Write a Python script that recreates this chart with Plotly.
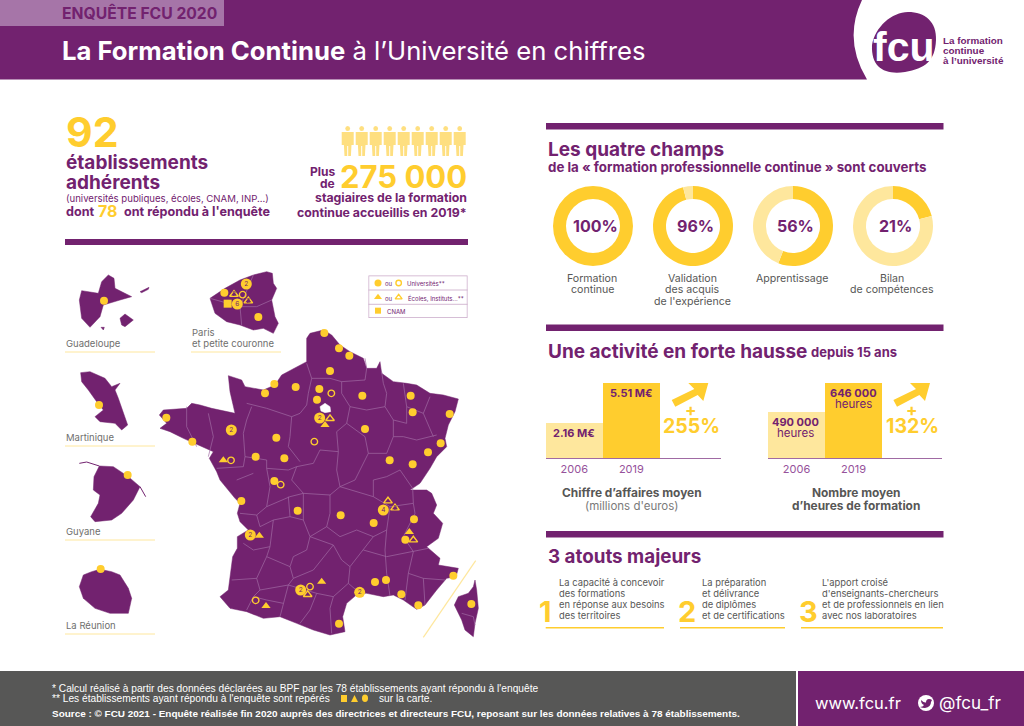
import plotly.graph_objects as go

PURPLE = "#72226f"
GOLD = "#ffcd2e"
PALE = "#fee79d"
GREY = "#575756"
FONT = "Inter"

# ---- donuts
field_names = [["Formation", "continue"], ["Validation", "des acquis", "de l'expérience"],
               ["Apprentissage"], ["Bilan", "de compétences"]]
field_pct = [100, 96, 56, 21]

# ---- bars
years = ["2006", "2019"]
revenue_values = [2.16, 5.51]
revenue_labels = ["2.16 M€", "5.51 M€"]
revenue_growth = "255%"
hours_values = [490000, 646000]
hours_labels = [["490 000", "heures"], ["646 000", "heures"]]
hours_growth = "132%"
# the original bars are on truncated scales, these are the values at the baseline
revenue_floor = -0.77
hours_floor = 243000

# ---- map outlines, units are the map axes
france_x = [850, 875, 900, 930, 970, 980, 1010, 1020, 1025, 1060, 1100, 1130, 1170, 1210, 1255, 1245, 1225, 1215, 1220, 1190,
            1170, 1140, 1110, 1160, 1175, 1190, 1180, 1208, 1195, 1160, 1200, 1195, 1255, 1248, 1220, 1190, 1155, 1130, 1090,
            1060, 1030, 980, 955, 920, 908, 915, 870, 820, 770, 720, 670, 620, 570, 540, 565, 578, 592, 592, 625, 600, 592, 600,
            585, 540, 530, 508, 520, 485, 430, 390, 360, 380, 358, 370, 440, 455, 480, 515, 585, 570, 565, 605, 615, 670, 705,
            725, 800, 800, 810, 850]
france_y = [240, 255, 285, 305, 325, 355, 355, 335, 370, 395, 400, 405, 430, 435, 447, 485, 525, 565, 590, 620,
            655, 700, 720, 720, 730, 765, 790, 820, 865, 890, 925, 945, 955, 980, 985, 1020, 1065, 1078, 1050,
            1035, 1040, 1030, 1030, 1060, 1100, 1145, 1155, 1140, 1120, 1100, 1105, 1085, 1075, 1040, 1020, 920, 895, 860, 840, 815, 790, 760,
            745, 690, 665, 625, 605, 590, 565, 545, 535, 520, 495, 480, 475, 460, 465, 475, 490, 425, 377, 390, 410, 420, 405,
            375, 335, 265, 250, 240]
paris_hole_x = [840, 855, 870, 872, 855, 843, 840]
paris_hole_y = [470, 460, 470, 485, 488, 483, 470]
corsica_x = [1305, 1310, 1315, 1305, 1300, 1275, 1265, 1243, 1255, 1285, 1300, 1305]
corsica_y = [990, 1020, 1075, 1120, 1160, 1140, 1110, 1065, 1040, 1030, 1010, 990]
guadeloupe_x = [205, 222, 225, 275, 240, 190, 180, 150, 125, 118, 125, 175, 185, 205, None, 240, 255, 280, 255, 245, 240, None,
                300, 327, 325, 305, 300, None, 183, 193, 190, 183]
guadeloupe_y = [75, 85, 115, 140, 150, 165, 200, 232, 205, 150, 122, 130, 95, 75, None, 205, 192, 210, 230, 225, 205, None,
                125, 112, 118, 128, 125, None, 232, 232, 240, 232]
martinique_x = [122, 150, 195, 215, 240, 225, 235, 250, 263, 245, 225, 180, 165, 190, 170, 145, 125, 122]
martinique_y = [368, 365, 385, 410, 400, 420, 445, 490, 525, 540, 520, 515, 500, 480, 455, 420, 395, 368]
guyane_x = [178, 220, 265, 300, 280, 245, 215, 165, 152, 175, 180, 160, 162, 178]
guyane_y = [648, 650, 680, 710, 750, 790, 810, 815, 800, 760, 735, 720, 680, 648]
reunion_x = [180, 215, 240, 265, 275, 265, 210, 165, 130, 118, 130, 155, 180]
reunion_y = [958, 965, 975, 1015, 1045, 1090, 1090, 1075, 1045, 1010, 975, 965, 958]
idf_x = [680, 697, 700, 710, 695, 705, 715, 700, 670, 640, 600, 560, 525, 510, 555, 600, 640, 680]
idf_y = [65, 70, 100, 115, 150, 200, 220, 250, 235, 240, 225, 215, 190, 145, 115, 90, 75, 65]
borders = [
    [(800, 340), (815, 385), (805, 430), (800, 465), (780, 490), (755, 500)],
    [(815, 385), (870, 385), (905, 395), (905, 430), (930, 470), (920, 520), (890, 545), (895, 605)],
    [(975, 325), (980, 355), (975, 390), (905, 395)],
    [(1025, 365), (1030, 400), (1040, 430), (1035, 470), (1060, 510)],
    [(1090, 400), (1100, 470), (1150, 490), (1170, 440)],
    [(1060, 510), (1100, 520), (1100, 470)],
    [(1060, 510), (1060, 560), (1090, 560), (1130, 570), (1190, 555)],
    [(1150, 490), (1180, 560)],
    [(930, 470), (980, 480), (1035, 470)],
    [(920, 520), (975, 560), (985, 610), (1040, 610), (1060, 560)],
    [(895, 605), (890, 660), (900, 710), (945, 690), (985, 610)],
    [(895, 605), (840, 600), (820, 640), (770, 650), (755, 690), (790, 730)],
    [(755, 500), (750, 560), (745, 590), (780, 635)],
    [(620, 460), (680, 475), (755, 500)],
    [(635, 470), (620, 510), (610, 550), (615, 620), (610, 650)],
    [(440, 470), (440, 530), (470, 590)],
    [(505, 490), (520, 560), (505, 620)],
    [(615, 620), (680, 630), (680, 655), (745, 660), (770, 650)],
    [(530, 655), (610, 650)],
    [(680, 655), (690, 710), (680, 770)],
    [(590, 690), (640, 670)],
    [(600, 790), (650, 795), (680, 770), (750, 740), (790, 730), (870, 735), (900, 710)],
    [(650, 795), (660, 830), (700, 810), (750, 800), (745, 740)],
    [(750, 800), (790, 810), (790, 730)],
    [(870, 735), (870, 790), (860, 830), (810, 860), (790, 810)],
    [(700, 810), (690, 890), (640, 900), (610, 880)],
    [(690, 890), (680, 920), (650, 985), (575, 990)],
    [(650, 985), (660, 1020), (640, 1040), (620, 1080)],
    [(680, 920), (750, 950), (760, 985), (745, 1005), (660, 1020)],
    [(810, 860), (800, 900), (760, 920), (750, 950)],
    [(760, 985), (820, 960), (880, 885), (905, 930), (930, 950), (925, 1000), (880, 1040), (830, 1030), (745, 1005)],
    [(810, 860), (880, 885)],
    [(860, 830), (900, 860), (950, 840), (1000, 860), (1040, 840), (1050, 770)],
    [(900, 710), (1000, 740), (1050, 770)],
    [(1000, 740), (1000, 690), (1040, 680), (1080, 660), (1118, 715)],
    [(1050, 770), (1120, 760), (1118, 715)],
    [(1120, 760), (1125, 790), (1090, 860), (1120, 905)],
    [(1040, 840), (1035, 900), (1040, 970), (1050, 1038)],
    [(1000, 860), (970, 900), (930, 950)],
    [(970, 900), (1040, 920)],
    [(1040, 920), (1120, 905), (1165, 895)],
    [(1120, 905), (1105, 970), (1095, 1050)],
    [(1105, 970), (1150, 985), (1215, 990)],
    [(1150, 985), (1155, 1065)],
    [(925, 1000), (960, 1030)],
    [(880, 1040), (870, 1075), (875, 1150)],
    [(830, 1030), (810, 1080), (780, 1120)],
    [(745, 1005), (730, 1060), (720, 1100)],
    [(640, 1040), (680, 1050), (730, 1060)],
    [(1265, 1090), (1300, 1100), (1305, 1125)],
    [(640, 75), (620, 120), (600, 170), (605, 225)],
    [(600, 170), (650, 170), (695, 150)],
    [(510, 145), (600, 170)],
]

# ---- establishments on the map
univ_x = [853, 897, 928, 870, 703, 767, 675, 838, 831, 967, 1112, 1118, 1229, 379, 975, 457, 709, 1202, 1164, 647, 733, 1049,
          1118, 703, 604, 773, 902, 1122, 1001, 1096, 1240, 1005, 1038, 1084, 1135, 897, 1294, 553, 655, 192, 177, 263, 182]
univ_y = [249, 295, 317, 363, 402, 411, 430, 417, 449, 437, 437, 487, 492, 503, 537, 575, 563, 580, 607, 620, 625, 631,
          643, 693, 753, 782, 796, 808, 819, 869, 977, 996, 990, 1033, 1066, 1121, 1062, 128, 201, 152, 465, 675, 957]
univ_many_x = [574, 839, 631, 782, 959, 1030, 619, 592]
univ_many_y = [540, 504, 855, 1020, 1027, 780, 102, 162]
univ_many_n = ["2", "2", "2", "2", "2", "4", "2", "6"]
univ_open_x = [874, 823, 573, 722, 810, 647, 608]
univ_open_y = [430, 575, 631, 704, 1010, 1051, 134]
school_x = [855, 550, 658, 1108, 845, 678]
school_y = [525, 631, 857, 846, 995, 1068]
school_open_x = [870, 1044, 1065, 1120, 803, 582, 625]
school_open_y = [506, 753, 774, 870, 1034, 133, 153]
school_open_n = ["", "", "3", "", "", "2", "2"]
cnam_x = [563]
cnam_y = [161]

atouts = [["La capacité à concevoir", "des formations", "en réponse aux besoins", "des territoires"],
          ["La préparation", "et délivrance", "de diplômes", "et de certifications"],
          ["L'apport croisé", "d'enseignants-chercheurs", "et de professionnels en lien", "avec nos laboratoires"]]

W, H = 1024, 726
fig = go.Figure()
shapes = []
notes = []


def rect(x0, y0, x1, y1, color):
    shapes.append(dict(type="rect", x0=x0, y0=y0, x1=x1, y1=y1, fillcolor=color, line_width=0,
                       xref="x", yref="y", layer="below"))


def line(x0, y0, x1, y1, color, width=1):
    shapes.append(dict(type="line", x0=x0, y0=y0, x1=x1, y1=y1, line=dict(color=color, width=width),
                       xref="x", yref="y", layer="below"))


def path(d, color):
    shapes.append(dict(type="path", path=d, fillcolor=color, line_width=0, xref="x", yref="y", layer="below"))


def label(x, y, text, size, color=PURPLE, bold=False, anchor="left", family=FONT):
    notes.append(dict(x=x, y=y, xref="x", yref="y", text=f"<b>{text}</b>" if bold else text, showarrow=False,
                      xanchor=anchor, yanchor="middle", borderpad=0,
                      font=dict(size=size, color=color, family=family)))


def map_fill(xs, ys):
    fig.add_trace(go.Scatter(x=xs, y=ys, xaxis="x2", yaxis="y2", mode="lines", fill="toself", fillcolor=PURPLE,
                             line=dict(color=PURPLE, width=0.5), hoverinfo="skip"))


def map_marks(xs, ys, symbol, size, text=None, color=GOLD):
    mode = "markers+text" if text else "markers"
    marker = dict(symbol=symbol, size=size, color=color, line=dict(width=1.4 if "open" in symbol else 0, color=color))
    fig.add_trace(go.Scatter(x=xs, y=ys, xaxis="x2", yaxis="y2", mode=mode, marker=marker, text=text,
                             textposition="middle center", cliponaxis=False, hoverinfo="skip",
                             textfont=dict(size=6.5, color=PURPLE, family=FONT)))


# ---- header and footer
path("M0 0 L862 0 Q843 40 867 79.5 L0 79.5 Z", PURPLE)
rect(0, 0, 224, 26, "#a675a8")
label(61, 13, "ENQUÊTE FCU 2020", 15.7, PURPLE, True)
label(61, 50, "<b>La Formation Continue</b> à l’Université en chiffres", 25.7, "white")
path("M872 45 C875 27 892 12 908 12 C925 12 937 22 936 40 C935 62 925 68 905 72 C885 75 871 68 872 45 Z", PURPLE)
label(904, 47, "fcu", 41, "white", True, "center", "Liberation Sans")
for i, txt in enumerate(["La formation", "continue", "à l’université"]):
    label(942, 40.7 + i * 10, txt, 9.9, PURPLE, True, family="Liberation Sans")

rect(0, 671, 796, 726, GREY)
rect(798, 671, 1024, 726, PURPLE)
foot = "Liberation Sans"
label(51, 688, "* Calcul réalisé à partir des données déclarées au BPF par les 78 établissements ayant répondu à l'enquête", 10.2, "white", family=foot)
label(51, 698.5, "** Les établissements ayant répondu à l'enquête sont repérés", 10.2, "white", family=foot)
label(378, 698.5, "sur la carte.", 10.2, "white", family=foot)
label(51, 713, "Source : © FCU 2021 - Enquête réalisée fin 2020 auprès des directrices et directeurs FCU, reposant sur les données relatives à 78 établissements.", 9.95, "white", True, family=foot)
rect(341, 695, 347, 702, GOLD)
path("M351 702 L354.5 695 L358 702 Z", GOLD)
shapes.append(dict(type="circle", x0=362, y0=694.5, x1=368, y1=702, fillcolor=GOLD, line_width=0, xref="x", yref="y"))
label(814, 703, "www.fcu.fr", 16.5, "white")
shapes.append(dict(type="circle", x0=918, y0=695, x1=934, y1=711, fillcolor="white", line_width=0, xref="x", yref="y"))
shapes.append(dict(type="path", path="M921 700 Q924 703 926 702.5 Q926 699 929 699 Q931 699 932 700 L931 702 Q931 707 925 708 Q922 708 920 707 Q923 707 924 705 Q921 704 921 700 Z",
                   fillcolor=PURPLE, line_width=0, xref="x", yref="y"))
label(938, 703, "@fcu_fr", 17, "white")

# ---- key figures
label(65, 132, "92", 41, GOLD, True)
label(65, 162, "établissements", 19, PURPLE, True)
label(65, 182, "adhérents", 19, PURPLE, True)
label(65, 198, "(universités publiques, écoles, CNAM, INP...)", 9.6, PURPLE)
label(65, 211, "dont", 12.6, PURPLE, True)
label(97, 211, "78", 16, GOLD, True)
label(123, 211, "ont répondu à l'enquête", 12.6, PURPLE, True)
label(336, 171, "Plus", 12, PURPLE, True, "right")
label(336, 183, "de", 12, PURPLE, True, "right")
label(468, 176, "275 000", 31, GOLD, True, "right")
label(468, 197.5, "stagiaires de la formation", 12.3, PURPLE, True, "right")
label(468, 212, "continue accueillis en 2019*", 12.3, PURPLE, True, "right")
rect(65, 239, 468, 245, PURPLE)
for i in range(9):
    px = 347.7 + i * 14
    shapes.append(dict(type="circle", x0=px - 2.4, y0=126, x1=px + 2.4, y1=131, fillcolor="#fedf80", line_width=0,
                       xref="x", yref="y", layer="below"))
    path(f"M{px-6} 132 L{px+6} 132 L{px+6} 145 L{px+3.8} 145 L{px+3.2} 156 L{px+0.5} 156 L{px+0.5} 146 L{px-0.5} 146 "
         f"L{px-0.5} 156 L{px-3.2} 156 L{px-3.8} 145 L{px-6} 145 Z", "#fedf80")

# ---- map
map_fill(france_x, france_y)
map_fill(corsica_x, corsica_y)
map_fill(guadeloupe_x, guadeloupe_y)
map_fill(martinique_x, martinique_y)
map_fill(guyane_x, guyane_y)
map_fill(reunion_x, reunion_y)
map_fill(idf_x, idf_y)
border_x, border_y = [], []
for b in borders:
    border_x += [p[0] for p in b] + [None]
    border_y += [p[1] for p in b] + [None]
fig.add_trace(go.Scatter(x=border_x, y=border_y, xaxis="x2", yaxis="y2", mode="lines",
                         line=dict(color="#a06aa3", width=0.7), hoverinfo="skip"))
fig.add_trace(go.Scatter(x=paris_hole_x, y=paris_hole_y, xaxis="x2", yaxis="y2", mode="lines", fill="toself",
                         fillcolor="white", line=dict(color="white", width=0.5), hoverinfo="skip"))
fig.add_trace(go.Scatter(x=[1307, 1150], y=[932, 1162], xaxis="x2", yaxis="y2", mode="lines",
                         line=dict(color=PALE, width=1.2), hoverinfo="skip"))
fig.add_trace(go.Scatter(x=[118, 140, 178, None, 300, 317], y=[640, 636, 648, None, 710, 740], xaxis="x2", yaxis="y2",
                         mode="lines", line=dict(color=PURPLE, width=1), hoverinfo="skip"))
map_marks(univ_x, univ_y, "circle", 8)
map_marks(univ_many_x, univ_many_y, "circle", 11, univ_many_n)
map_marks(univ_open_x, univ_open_y, "circle-open", 6.5)
map_marks(school_x, school_y, "triangle-up", 8)
map_marks(school_open_x, school_open_y, "triangle-up-open", 7.5, school_open_n)
map_marks(cnam_x, cnam_y, "square", 8)
# legend of the map
map_marks([1014], [99], "circle", 7)
map_marks([1076], [99], "circle-open", 5.5)
map_marks([1014], [142], "triangle-up", 7)
map_marks([1076], [142], "triangle-up-open", 6)
map_marks([1014], [182], "square", 6)
rect(368.5, 275.5, 467.5, 318, "#c9a8c8")
rect(369.2, 276.2, 466.8, 317.3, "white")
line(368.5, 290, 467.5, 290, "#c9a8c8", 0.8)
line(368.5, 304.3, 467.5, 304.3, "#c9a8c8", 0.8)
label(384, 283.7, "ou", 6)
label(406, 283.7, "Universités**", 6)
label(384, 298, "ou", 6)
label(407, 298, "Écoles, Instituts...**", 6)
label(386, 311, "CNAM", 6)
for name, y in [("Guadeloupe", 343), ("Martinique", 437), ("Guyane", 531), ("La Réunion", 625)]:
    label(65, y, name, 9.5, "#6f6f6e")
    line(65, y + 9, 155, y + 9, PALE, 1)
label(191, 332, "Paris", 9.5, "#6f6f6e")
label(191, 343, "et petite couronne", 9.5, "#6f6f6e")
line(191, 352, 281, 352, PALE, 1)

# ---- quatre champs
rect(546, 123, 943.5, 129.5, PURPLE)
label(547, 149, "Les quatre champs", 19, PURPLE, True)
label(547, 167, "de la « formation professionnelle continue » sont couverts", 13.3, PURPLE, True)
centers = [593, 693, 793, 893]
for cx, pct, name in zip(centers, field_pct, field_names):
    fig.add_trace(go.Pie(values=[pct, 100 - pct], hole=0.675, sort=False, direction="clockwise", textinfo="none",
                         marker=dict(colors=[GOLD, PALE], line=dict(width=0)), hoverinfo="skip",
                         domain=dict(x=[(cx - 40) / W, (cx + 40) / W], y=[1 - 266 / H, 1 - 186 / H])))
    label(cx + 2, 226, f"{pct}%", 16, PURPLE, True, "center")
    for i, txt in enumerate(name):
        label(cx - 1, 278 + i * 11.8, txt, 10.6, GREY, False, "center")

# ---- activite
rect(546, 324.5, 943.5, 331, PURPLE)
label(547, 351, "<b>Une activité en forte hausse</b>", 19)
label(810, 352, "<b>depuis 15 ans</b>", 13)
fig.add_trace(go.Bar(x=years, y=[v - revenue_floor for v in revenue_values], base=revenue_floor, xaxis="x3", yaxis="y3",
                     marker=dict(color=[PALE, GOLD], line_width=0), hoverinfo="skip"))
fig.add_trace(go.Bar(x=years, y=[v - hours_floor for v in hours_values], base=hours_floor, xaxis="x4", yaxis="y4",
                     marker=dict(color=[PALE, GOLD], line_width=0), hoverinfo="skip"))
label(574, 433, revenue_labels[0], 11, PURPLE, True, "center")
label(631, 393, revenue_labels[1], 11, PURPLE, True, "center")
label(795, 422, hours_labels[0][0], 11, PURPLE, True, "center")
label(795, 433, hours_labels[0][1], 11.5, PURPLE, False, "center")
label(853, 393, hours_labels[1][0], 11, PURPLE, True, "center")
label(853, 404, hours_labels[1][1], 11.5, PURPLE, False, "center")
for dx, growth in [(0, revenue_growth), (221.7, hours_growth)]:
    path(f"M{708.3+dx} 383 L{688.3+dx} 383 L{694.3+dx} 389 L{671.7+dx} 400 L{675.3+dx} 406.7 L{697.7+dx} 395 L{703.3+dx} 401 Z", GOLD)
    label(690.5 + dx, 410, "+", 17, GOLD, True, "center")
    label(691 + dx, 426, growth, 19.5, GOLD, True, "center")
label(632, 492.5, "Chiffre d’affaires moyen", 11.9, GREY, True, "center")
label(632, 505.5, "(millions d'euros)", 11.5, "#7a7a79", False, "center")
label(856, 492.5, "Nombre moyen", 11.9, GREY, True, "center")
label(856, 505.5, "d’heures de formation", 11.9, GREY, True, "center")

# ---- atouts
rect(546, 531, 943.5, 537.5, PURPLE)
label(547, 556, "3 atouts majeurs", 18.8, PURPLE, True)
for digit_x, text_x, x0, x1, n, lines in zip([545.7, 687, 808], [558, 701, 821], [545.7, 680, 801], [664, 785, 943],
                                             ["1", "2", "3"], atouts):
    label(digit_x, 611, n, 29, GOLD, True, "center")
    for i, txt in enumerate(lines):
        label(text_x, 582.7 + i * 11, txt, 9.4, GREY)
    line(x0, 627.7, x1, 627.7, GOLD, 1.5)


def frame(left, right, top, bottom):
    return dict(domain=[left / W, right / W], visible=False), dict(domain=[1 - bottom / H, 1 - top / H], visible=False)


map_x, map_y = frame(40, 520, 250, 650)
bar_x1 = dict(domain=[545.7 / W, 721 / W], type="category", range=[-0.5, 2.57], showline=True, linecolor="#a06aa3",
              linewidth=1, ticks="", tickfont=dict(size=11, color="#96529b", family=FONT), fixedrange=True)
bar_x2 = dict(bar_x1, domain=[768 / W, 942 / W], range=[-0.5, 2.55])
bar_y1 = dict(domain=[1 - 458.3 / H, 1 - 382.7 / H], visible=False, range=[revenue_floor, revenue_values[1]])
bar_y2 = dict(bar_y1, range=[hours_floor, hours_values[1]])

fig.update_layout(
    width=W, height=H, margin=dict(l=0, r=0, t=0, b=0), paper_bgcolor="white", plot_bgcolor="rgba(0,0,0,0)",
    showlegend=False, bargap=0, shapes=shapes, annotations=notes,
    xaxis=dict(range=[0, W], visible=False, domain=[0, 1]), yaxis=dict(range=[H, 0], visible=False, domain=[0, 1]),
    xaxis2=dict(map_x, range=[0, 1440]), yaxis2=dict(map_y, range=[1200, 0]),
    xaxis3=bar_x1, yaxis3=bar_y1, xaxis4=bar_x2, yaxis4=bar_y2,
)
# keep the page axes alive even though nothing is plotted on them
fig.add_trace(go.Scatter(x=[0], y=[0], mode="markers", marker=dict(opacity=0), hoverinfo="skip"))
for ax in ("yaxis3", "yaxis4"):
    fig.layout[ax].anchor = "x" + ax[-1]
fig.layout.xaxis3.anchor = "y3"
fig.layout.xaxis4.anchor = "y4"
fig.layout.xaxis2.anchor = "y2"
fig.layout.yaxis2.anchor = "x2"
fig.write_html("out.html", config=dict(displayModeBar=False), post_script="document.body.style.margin='0';")
